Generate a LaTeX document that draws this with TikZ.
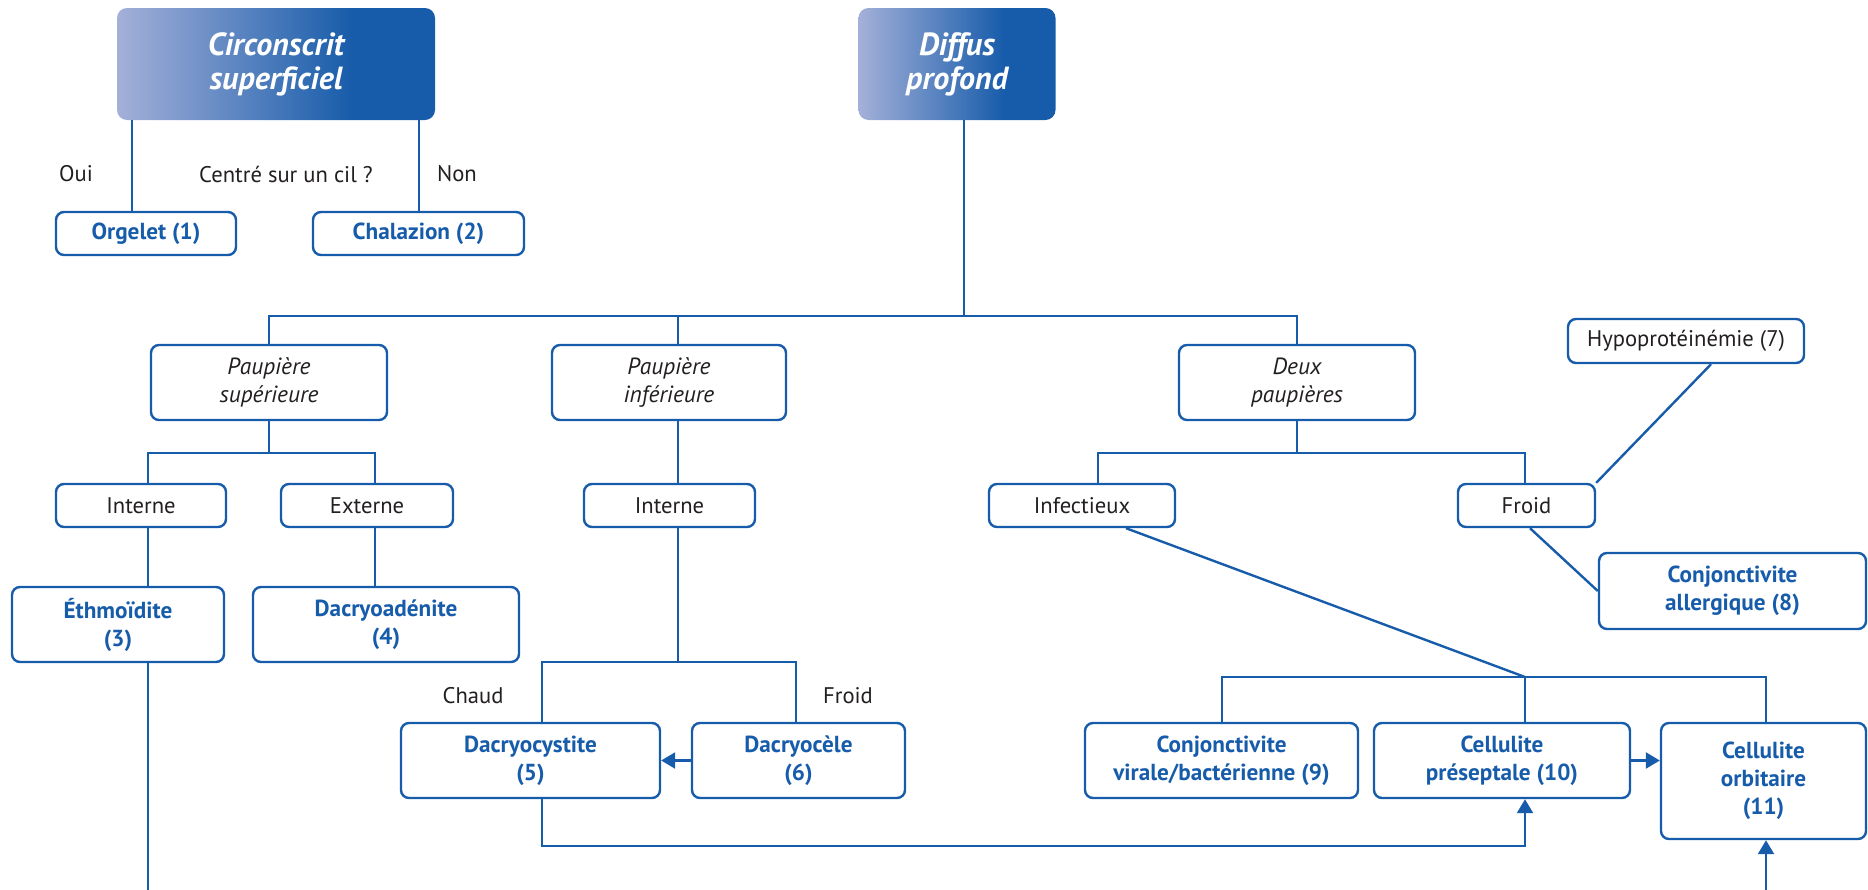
\documentclass[tikz,border=0pt]{standalone}
\usepackage{fontspec}
\setmainfont{PT Sans}
\usetikzlibrary{arrows.meta}
\definecolor{bleu}{RGB}{23,92,170}
\definecolor{bleuclair}{RGB}{164,176,217}
\definecolor{encre}{RGB}{35,31,32}
\pgfdeclarehorizontalshading{entete}{100bp}{color(0bp)=(bleuclair); color(25bp)=(bleuclair); color(62bp)=(bleu); color(100bp)=(bleu)}

\begin{document}
\begin{tikzpicture}[x=.5pt,y=-.5pt]
  \tikzstyle{every node} = [font=\fontsize{11.3}{14}\selectfont, text=encre]
  \tikzstyle{head} = [rounded corners=5pt, shading=entete, text=white, align=center, font=\fontsize{16}{17}\selectfont\bfseries\itshape]
  \tikzstyle{box} = [draw=bleu, line width=1.2pt, rounded corners=4pt, fill=white, align=center]
  \tikzstyle{diag} = [box, text=bleu, font=\fontsize{11.6}{14}\selectfont\bfseries]
  \tikzstyle{q} = [box, font=\fontsize{11.7}{14}\selectfont\itshape]
  \tikzstyle{link} = [draw=bleu, line width=1.2pt]
  \tikzstyle{arr} = [link, -{Triangle[length=7pt,width=8pt]}]
  \useasboundingbox (0,0) rectangle (1868,889);
  %%
  \node[head, minimum width=159pt, minimum height=56pt] (circ) at (276,64) {Circonscrit\\superficiel};
  \node[head, minimum width=98.5pt, minimum height=56pt] (diffus) at (957,64) {Diffus\\profond};
  \node[diag, minimum width=90pt, minimum height=21.5pt] (orgelet) at (146,233.5) {Orgelet (1)};
  \node[diag, minimum width=105.5pt, minimum height=21.5pt] (chalaz) at (418.5,233.5) {Chalazion (2)};
  \node (oui) at (76,174) {Oui};
  \node (cil) at (286,174) {Centré sur un cil ?};
  \node (non) at (457,174) {Non};
  %%
  \node[q, minimum width=118pt, minimum height=37.5pt] (psup) at (269,382.5) {Paupière\\supérieure};
  \node[q, minimum width=117pt, minimum height=37.5pt] (pinf) at (669,382.5) {Paupière\\inférieure};
  \node[q, minimum width=118pt, minimum height=37.5pt] (deux) at (1297,382.5) {Deux\\paupières};
  \node[box, minimum width=85pt, minimum height=21.5pt] (intsup) at (141,505.5) {Interne};
  \node[box, minimum width=86pt, minimum height=21.5pt] (ext) at (367,505.5) {Externe};
  \node[box, minimum width=85.5pt, minimum height=21.5pt] (intinf) at (669.5,505.5) {Interne};
  \node[box, minimum width=93pt, minimum height=21.5pt] (infect) at (1082,505.5) {Infectieux};
  \node[box, minimum width=68.5pt, minimum height=21.5pt] (froid) at (1526.5,505.5) {Froid};
  \node[box, minimum width=118pt, minimum height=22pt] (hypo) at (1686,341) {Hypoprotéinémie (7)};
  %%
  \node[diag, minimum width=106pt, minimum height=37.5pt] (ethmo) at (118,624.5) {Éthmoïdite\\(3)};
  \node[diag, minimum width=133pt, minimum height=37.5pt] (adenite) at (386,624.5) {Dacryoadénite\\(4)};
  \node[diag, minimum width=129.5pt, minimum height=37.5pt] (cystite) at (530.5,760.5) {Dacryocystite\\(5)};
  \node[diag, minimum width=106.5pt, minimum height=37.5pt] (cele) at (798.5,760.5) {Dacryocèle\\(6)};
  \node (chaud) at (473,696) {Chaud};
  \node (froidlbl) at (848,696) {Froid};
  \node[diag, minimum width=133.5pt, minimum height=38pt] (allerg) at (1732.5,591) {Conjonctivite\\allergique (8)};
  \node[diag, minimum width=136.5pt, minimum height=37.5pt] (virale) at (1221.5,760.5) {Conjonctivite\\virale/bactérienne (9)};
  \node[diag, minimum width=128pt, minimum height=37.5pt] (presep) at (1502,760.5) {Cellulite\\préseptale (10)};
  \node[diag, minimum width=102.5pt, minimum height=58pt] (orbit) at (1763.5,781) {Cellulite\\orbitaire\\(11)};
  %%
  \path[link] (circ.south -| 132,0) -- (orgelet.north -| 132,0);
  \path[link] (circ.south -| 419,0) -- (chalaz.north -| 419,0);
  %%
  \coordinate (b0) at (964,316);
  \path[link] (diffus.south -| b0) -- (b0);
  \path[link] (b0) -| (psup);
  \path[link] (b0) -| (deux);
  \path[link] (b0 -| 678,0) -- (pinf.north -| 678,0);
  %%
  \coordinate (b1) at (269,453);
  \path[link] (psup) -- (b1);
  \path[link] (b1) -| (intsup.north -| 148,0);
  \path[link] (b1) -| (ext.north -| 375,0);
  \path[link] (intsup.south -| 148,0) -- (ethmo.north -| 148,0);
  \path[link] (ext.south -| 375,0) -- (adenite.north -| 375,0);
  %%
  \coordinate (b2) at (678,662);
  \path[link] (pinf.south -| b2) -- (intinf.north -| b2);
  \path[link] (intinf.south -| b2) -- (b2);
  \path[link] (b2) -| (cystite.north -| 542,0);
  \path[link] (b2) -| (cele.north -| 796,0);
  \path[arr] (cele) -- (cystite);
  %%
  \coordinate (b3) at (1297,453);
  \path[link] (deux) -- (b3);
  \path[link] (b3) -| (infect.north -| 1098,0);
  \path[link] (b3) -| (froid.north -| 1525,0);
  \path[link] (froid.north east) -- (hypo.south -| 1711,0);
  \path[link] (froid.south -| 1530,0) -- (allerg.west);
  %%
  \coordinate (b4) at (1525,677);
  \path[link] (infect.south -| 1126,0) -- (b4);
  \path[link] (b4) -| (virale.north -| 1222,0);
  \path[link] (b4) -| (orbit.north -| 1766,0);
  \path[link] (b4) -- (presep.north -| b4);
  \path[arr] (presep.east) -- (presep.east -| orbit.west);
  %%
  \coordinate (b5) at (542,846);
  \path[arr] (cystite.south -| b5) -- (b5) -| (presep.south -| 1525,0);
  \coordinate (b6) at (148,905);
  \path[arr] (ethmo.south -| b6) -- (b6) -| (orbit.south -| 1766,0);
\end{tikzpicture}
\end{document}
